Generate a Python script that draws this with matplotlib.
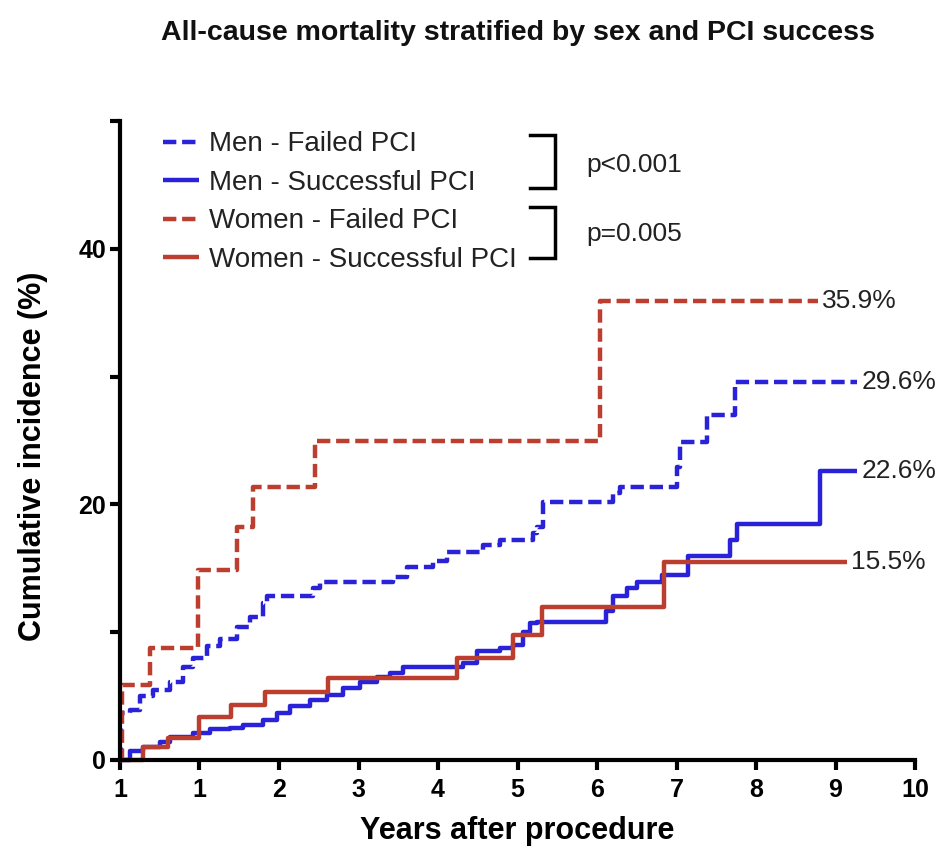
import numpy as np
import matplotlib
matplotlib.use('Agg')
import matplotlib.pyplot as plt

plt.rcParams['font.family'] = ['Liberation Sans', 'DejaVu Sans']

# cumulative incidence (%) step curves, times in years after procedure
men_failed_t = [0, 0.01, 0.13, 0.25, 0.42, 0.63, 0.79, 0.92, 1.09, 1.26, 1.47, 1.64, 1.80, 1.85,
                2.43, 2.52, 3.43, 3.61, 3.94, 4.11, 4.57, 4.78, 5.19, 5.25, 5.32, 6.20, 6.29,
                7.00, 7.04, 7.38, 7.74]
men_failed_y = [0, 3.7, 3.9, 5.0, 5.5, 6.1, 7.3, 8.0, 8.9, 9.5, 10.4, 11.2, 12.3, 12.8,
                13.5, 13.9, 14.3, 15.1, 15.6, 16.3, 16.8, 17.2, 17.8, 18.2, 20.2, 20.9, 21.4,
                22.9, 24.9, 27.0, 29.6]
men_failed_end = 9.27

men_success_t = [0, 0.13, 0.29, 0.50, 0.63, 0.92, 1.13, 1.38, 1.55, 1.80, 1.97, 2.14, 2.39,
                 2.60, 2.80, 3.02, 3.23, 3.40, 3.56, 4.31, 4.49, 4.78, 4.94, 5.07, 5.16, 5.25,
                 6.11, 6.20, 6.38, 6.50, 6.82, 7.14, 7.67, 7.76, 8.81]
men_success_y = [0, 0.7, 1.0, 1.4, 1.8, 2.1, 2.4, 2.5, 2.7, 3.1, 3.7, 4.2, 4.7,
                 5.1, 5.6, 6.1, 6.5, 6.8, 7.3, 7.6, 8.5, 8.8, 9.0, 10.0, 10.7, 10.8,
                 11.7, 12.8, 13.5, 13.9, 14.5, 16.0, 17.2, 18.5, 22.6]
men_success_end = 9.27

women_failed_t = [0, 0.02, 0.38, 0.98, 1.47, 1.67, 2.45, 6.04]
women_failed_y = [0, 5.9, 8.8, 14.9, 18.2, 21.4, 25.0, 35.9]
women_failed_end = 8.78

women_success_t = [0, 0.29, 0.61, 1.00, 1.39, 1.83, 2.62, 4.24, 4.94, 5.31, 6.84]
women_success_y = [0, 1.0, 1.7, 3.4, 4.3, 5.3, 6.4, 8.0, 9.8, 12.0, 15.5]
women_success_end = 9.14

x_tick_labels = ['1', '1', '2', '3', '4', '5', '6', '7', '8', '9', '10']
y_tick_labels = ['0', '', '20', '', '40', '']

blue = '#2a22d8'
red = '#bb3e2e'
text_col = '#222222'

fig = plt.figure(figsize=(9.36, 8.5), dpi=100)
ax = fig.add_axes([0.1282, 0.1059, 0.8494, 0.7515])


def draw_curve(t, y, t_end, color, dashed, label):
    tt = list(t) + [t_end]
    yy = list(y) + [y[-1]]
    line, = ax.step(tt, yy, where='post', color=color, lw=3.2, label=label,
                    clip_on=False, solid_capstyle='butt')
    if dashed:
        line.set_dashes((3.0, 1.3))
    ax.annotate('%.1f%%' % y[-1], xy=(t_end, y[-1]), xytext=(3, 0),
                textcoords='offset points', va='center', ha='left',
                fontsize=19, color=text_col)


draw_curve(men_failed_t, men_failed_y, men_failed_end, blue, True, 'Men - Failed PCI')
draw_curve(men_success_t, men_success_y, men_success_end, blue, False, 'Men - Successful PCI')
draw_curve(women_failed_t, women_failed_y, women_failed_end, red, True, 'Women - Failed PCI')
draw_curve(women_success_t, women_success_y, women_success_end, red, False, 'Women - Successful PCI')

ax.set_xlim(0, 10)
ax.set_ylim(0, 50)
ax.set_xticks(np.arange(0, 11))
ax.set_xticklabels(x_tick_labels)
ax.set_yticks(np.arange(0, 51, 10))
ax.set_yticklabels(y_tick_labels)
for lab in ax.get_xticklabels() + ax.get_yticklabels():
    lab.set_fontweight('bold')
    lab.set_fontsize(18)
ax.tick_params(width=3, length=7, color='black')
ax.tick_params(axis='x', pad=6)
ax.tick_params(axis='y', pad=3)

for side in ['top', 'right']:
    ax.spines[side].set_visible(False)
for side in ['left', 'bottom']:
    ax.spines[side].set_linewidth(3)

ax.set_xlabel('Years after procedure', fontsize=22, fontweight='bold', labelpad=10)
ax.set_ylabel('Cumulative incidence (%)', fontsize=22, fontweight='bold')
ax.yaxis.set_label_coords(-0.091, 0.475)

leg = ax.legend(loc='upper left', bbox_to_anchor=(0.054, 0.984), frameon=False,
                fontsize=20, handlelength=1.3, handletextpad=0.35, labelspacing=0.45,
                borderpad=0, borderaxespad=0)
for txt in leg.get_texts():
    txt.set_color(text_col)

# significance brackets for the sex comparisons
brackets = [(48.9, 44.8, 46.6, 'p<0.001'), (43.3, 39.3, 41.2, 'p=0.005')]
for top, bottom, ypos, ptext in brackets:
    ax.plot([5.16, 5.47, 5.47, 5.16], [top, top, bottom, bottom], color='black',
            lw=2.5, clip_on=False, solid_joinstyle='miter')
    ax.text(5.87, ypos, ptext, fontsize=19, va='center', ha='left', color=text_col)

fig.suptitle('All-cause mortality stratified by sex and PCI success', x=0.553, y=0.977,
             fontsize=20.5, fontweight='bold', color='#111111')

fig.savefig('out.png', dpi=100)
